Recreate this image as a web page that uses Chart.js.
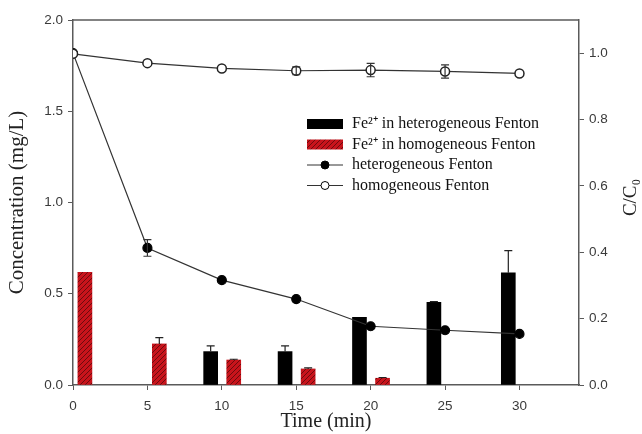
<!DOCTYPE html>
<html>
<head>
<meta charset="utf-8">
<script src="https://cdn.jsdelivr.net/npm/chart.js@4/dist/chart.umd.min.js"></script>
<style>
  body { margin: 0; background: #fff; }
  #myChart { display: block; }
</style>
</head>
<body>
<canvas id="myChart" width="642" height="434"></canvas>
<script>
  // time points (min)
  const times = [0, 5, 10, 15, 20, 25, 30];

  // Fe2+ concentration (mg/L), left axis
  const heteroFeTimes = [10, 15, 20, 25, 30];
  const heteroFe = [0.183, 0.183, 0.371, 0.453, 0.615];
  const heteroFeErr = [0.031, 0.031, 0, 0.004, 0.121];
  const homoFeTimes = [0, 5, 10, 15, 20];
  const homoFe = [0.617, 0.225, 0.137, 0.088, 0.037];
  const homoFeErr = [0, 0.035, 0.004, 0.006, 0.004];

  // C/C0, right axis
  const heteroRatio = [1.0, 0.413, 0.316, 0.259, 0.177, 0.165, 0.154];
  const heteroRatioErr = [0, 0.025, 0, 0, 0, 0, 0];
  const homoRatio = [0.998, 0.970, 0.954, 0.947, 0.949, 0.945, 0.939];
  const homoRatioErr = [0, 0, 0, 0.012, 0.02, 0.02, 0];

  const leftTicks = [0, 0.5, 1.0, 1.5, 2.0];
  const rightTicks = [0, 0.2, 0.4, 0.6, 0.8, 1.0];
  const xTicks = [0, 5, 10, 15, 20, 25, 30];

  const legendLabels = ['Fe²⁺ in heterogeneous Fenton', 'Fe²⁺ in homogeneous Fenton',
                        'heterogeneous Fenton', 'homogeneous Fenton'];

  // hatched red fill
  function makeHatch() {
    const c = document.createElement('canvas');
    c.width = 5; c.height = 5;
    const g = c.getContext('2d');
    g.fillStyle = '#c8141c';
    g.fillRect(0, 0, 5, 5);
    g.strokeStyle = '#6e0a0e';
    g.lineWidth = 1;
    g.beginPath();
    g.moveTo(-1, 6); g.lineTo(6, -1);
    g.moveTo(-1, 1); g.lineTo(1, -1);
    g.moveTo(4, 6); g.lineTo(6, 4);
    g.stroke();
    return g.createPattern(c, 'repeat');
  }
  const hatch = makeHatch();

  const BAR_SHIFT_BLACK = -0.75;
  const BAR_SHIFT_RED = 0.8;

  const axisColor = '#5a5a5a';
  const tickFont = { family: 'Liberation Sans', size: 13.5 };
  const serif = 'Liberation Serif';

  const errorBars = {
    id: 'errorBars',
    afterDatasetsDraw(chart) {
      const ctx = chart.ctx;
      ctx.save();
      chart.data.datasets.forEach((ds, i) => {
        if (!ds.errors) return;
        const yScale = chart.scales[ds.yAxisID];
        const xScale = chart.scales.x;
        ds.data.forEach((p, j) => {
          const e = ds.errors[j];
          if (!e) return;
          const px = xScale.getPixelForValue(p.x);
          const top = yScale.getPixelForValue(p.y + e);
          const bot = ds.type === 'bar' ? yScale.getPixelForValue(p.y) : yScale.getPixelForValue(p.y - e);
          ctx.strokeStyle = ds.type === 'bar' ? '#222' : '#333';
          ctx.lineWidth = 1.2;
          ctx.beginPath();
          ctx.moveTo(px, top); ctx.lineTo(px, bot);
          ctx.moveTo(px - 4, top); ctx.lineTo(px + 4, top);
          if (ds.type !== 'bar') { ctx.moveTo(px - 4, bot); ctx.lineTo(px + 4, bot); }
          ctx.stroke();
        });
      });
      ctx.restore();
    }
  };

  const frameAndLegend = {
    id: 'frameAndLegend',
    afterDraw(chart) {
      const ctx = chart.ctx;
      const a = chart.chartArea;
      ctx.save();
      // top frame line
      ctx.strokeStyle = axisColor;
      ctx.lineWidth = 1.5;
      ctx.beginPath();
      ctx.moveTo(a.left, a.top); ctx.lineTo(a.right, a.top);
      ctx.stroke();

      // right axis title C/C0, reading bottom to top
      ctx.translate(631, (a.top + a.bottom) / 2 - 5);
      ctx.rotate(-Math.PI / 2);
      ctx.fillStyle = '#222';
      ctx.font = '19px ' + serif;
      ctx.textAlign = 'center';
      ctx.textBaseline = 'middle';
      ctx.fillText('C/C₀', 0, 0);
      ctx.restore();

      // legend
      ctx.save();
      const lx = a.left + 234, ly = a.top + 104, row = 20.5;
      ctx.font = '16px ' + serif;
      ctx.textBaseline = 'middle';
      ctx.fillStyle = '#111';
      legendLabels.forEach((t, i) => {
        const y = ly + i * row;
        if (i === 0) { ctx.fillStyle = '#000'; ctx.fillRect(lx, y - 5, 36, 10); }
        if (i === 1) { ctx.fillStyle = hatch; ctx.fillRect(lx, y - 5, 36, 10); }
        if (i >= 2) {
          ctx.strokeStyle = '#333'; ctx.lineWidth = 1;
          ctx.beginPath(); ctx.moveTo(lx, y); ctx.lineTo(lx + 36, y); ctx.stroke();
          ctx.beginPath(); ctx.arc(lx + 18, y, 4, 0, Math.PI * 2);
          ctx.fillStyle = i === 2 ? '#000' : '#fff';
          ctx.fill(); ctx.strokeStyle = '#000'; ctx.stroke();
        }
        ctx.fillStyle = '#111';
        ctx.fillText(t, lx + 45, y);
      });
      ctx.restore();
    }
  };

  const ctx = document.getElementById('myChart').getContext('2d');
  const myChart = new Chart(ctx, {
    data: {
      datasets: [
        {
          type: 'line',
          label: legendLabels[3],
          data: times.map((t, i) => ({ x: t, y: homoRatio[i] })),
          errors: homoRatioErr,
          yAxisID: 'y2',
          borderColor: '#333',
          borderWidth: 1.2,
          pointRadius: 4.5,
          pointBackgroundColor: '#fff',
          pointBorderColor: '#222',
          pointBorderWidth: 1.5,
          tension: 0
        },
        {
          type: 'line',
          label: legendLabels[2],
          data: times.map((t, i) => ({ x: t, y: heteroRatio[i] })),
          errors: heteroRatioErr,
          yAxisID: 'y2',
          borderColor: '#333',
          borderWidth: 1.2,
          pointRadius: 4.5,
          pointBackgroundColor: '#000',
          pointBorderColor: '#000',
          tension: 0
        },
        {
          type: 'bar',
          label: legendLabels[0],
          data: heteroFeTimes.map((t, i) => ({ x: t + BAR_SHIFT_BLACK, y: heteroFe[i] })),
          errors: heteroFeErr,
          yAxisID: 'y',
          backgroundColor: '#000',
          barThickness: 14,
          grouped: false
        },
        {
          type: 'bar',
          label: legendLabels[1],
          data: homoFeTimes.map((t, i) => ({ x: t + BAR_SHIFT_RED, y: homoFe[i] })),
          errors: homoFeErr,
          yAxisID: 'y',
          backgroundColor: hatch,
          barThickness: 14,
          grouped: false
        }
      ]
    },
    options: {
      responsive: false,
      animation: false,
      layout: { padding: { top: 20, left: 0, right: 0, bottom: 0 } },
      plugins: { legend: { display: false }, tooltip: { enabled: false } },
      scales: {
        x: {
          type: 'linear',
          min: 0, max: 34,
          offset: false,
          afterBuildTicks: s => { s.ticks = xTicks.map(v => ({ value: v })); },
          afterFit: s => { s.height = 49; },
          ticks: { color: '#3a3a3a', font: tickFont, padding: 8, callback: v => v },
          grid: { offset: false, drawOnChartArea: false, tickLength: 5, color: axisColor },
          border: { color: axisColor, width: 1.5 },
          title: { display: true, text: 'Time (min)', color: '#222',
                   font: { family: serif, size: 20 }, padding: { top: 0, bottom: 0 } }
        },
        y: {
          position: 'left',
          min: 0, max: 2.0,
          afterBuildTicks: s => { s.ticks = leftTicks.map(v => ({ value: v })); },
          afterFit: s => { s.width = 73; },
          ticks: { color: '#3a3a3a', font: tickFont, padding: 5, callback: v => v.toFixed(1) },
          grid: { drawOnChartArea: false, tickLength: 5, color: axisColor },
          border: { color: axisColor, width: 1.5 },
          title: { display: true, text: 'Concentration (mg/L)', color: '#222',
                   font: { family: serif, size: 21 }, padding: { top: 5, bottom: 0 } }
        },
        y2: {
          position: 'right',
          min: 0, max: 1.1,
          afterBuildTicks: s => { s.ticks = rightTicks.map(v => ({ value: v })); },
          afterFit: s => { s.width = 63; },
          ticks: { color: '#3a3a3a', font: tickFont, padding: 5, callback: v => v.toFixed(1) },
          grid: { drawOnChartArea: false, tickLength: 5, color: axisColor },
          border: { color: axisColor, width: 1.5 }
        }
      }
    },
    plugins: [errorBars, frameAndLegend]
  });
</script>
</body>
</html>
